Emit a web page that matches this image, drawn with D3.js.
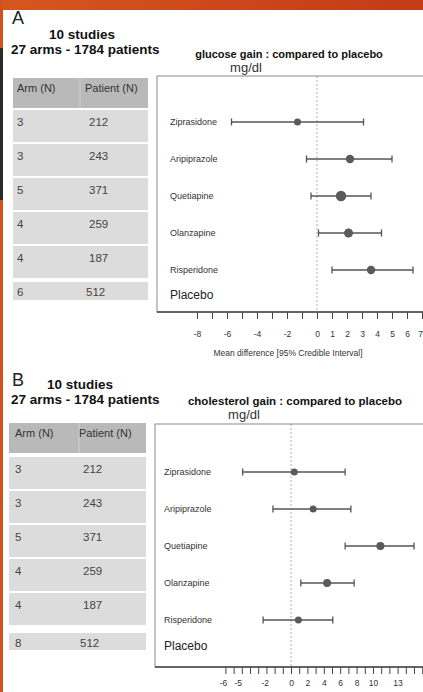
<!DOCTYPE html>
<html>
<head>
<meta charset="utf-8">
<script src="https://cdn.jsdelivr.net/npm/d3@7"></script>
<style>
body { margin: 0; background: #fff; }
text { font-family: "Liberation Sans", Arial, sans-serif; }
</style>
</head>
<body>
<script>
var drugs = ["Ziprasidone", "Aripiprazole", "Quetiapine", "Olanzapine", "Risperidone"];

var armsA = ["3", "3", "5", "4", "4", "6"];
var patientsA = ["212", "243", "371", "259", "187", "512"];
var armsB = ["3", "3", "5", "4", "4", "8"];
var patientsB = ["212", "243", "371", "259", "187", "512"];

var glucoseMean = [-1.3, 2.2, 1.6, 2.1, 3.6];
var glucoseLow = [-5.7, -0.7, -0.4, 0.1, 1.0];
var glucoseHigh = [3.1, 5.0, 3.6, 4.3, 6.4];

var cholMean = [0.4, 2.7, 10.9, 4.4, 0.9];
var cholLow = [-5.9, -2.2, 6.6, 1.2, -3.4];
var cholHigh = [6.6, 7.3, 15.0, 7.7, 5.1];

var glucoseTickVals = [-8, -6, -4, -2, 0, 1, 2, 3, 4, 5, 6, 7];
var glucoseTickText = ["-8", "-6", "-4", "-2", "0", "1", "2", "3", "4", "5", "6", "7"];
var cholTickVals = [-8.3, -6.5, -3.2, 0, 2, 4, 6, 8, 10, 13];
var cholTickText = ["-6", "-5", "-2", "0", "2", "4", "6", "8", "10", "13"];

var width = 423, height = 692;

var svg = d3.select("body").append("svg")
	.attr("width", width)
	.attr("height", height);

// slide background: orange band on top, stripe on the left
var grad = svg.append("defs").append("linearGradient").attr("id", "band");
grad.append("stop").attr("offset", "0%").attr("stop-color", "#d6561f");
grad.append("stop").attr("offset", "100%").attr("stop-color", "#c33b17");
svg.append("rect").attr("x", 0).attr("y", 0).attr("width", width).attr("height", 10).attr("fill", "url(#band)");
svg.append("rect").attr("x", 0).attr("y", 0).attr("width", 3).attr("height", height).attr("fill", "#d4501d");
svg.append("rect").attr("x", 0).attr("y", 48).attr("width", 3).attr("height", 152).attr("fill", "#2b2b2b");

function drawPanel(p) {
	var g = svg.append("g");

	g.append("text").attr("x", 12).attr("y", p.letterY)
		.attr("font-size", 18).attr("fill", "#222").text(p.letter);
	g.append("text").attr("x", p.studiesX).attr("y", p.studiesY)
		.attr("text-anchor", "middle").attr("font-size", 13.5).attr("font-weight", "bold")
		.attr("fill", "#111").text("10 studies");
	g.append("text").attr("x", 11).attr("y", p.studiesY + 14.5)
		.attr("font-size", 13.5).attr("font-weight", "bold")
		.attr("fill", "#111").text("27 arms - 1784 patients");
	g.append("text").attr("x", p.titleX).attr("y", p.titleY)
		.attr("text-anchor", "middle").attr("font-size", p.titleSize).attr("font-weight", "bold")
		.attr("fill", "#111").text(p.title);
	g.append("text").attr("x", p.unitX).attr("y", p.titleY + 14)
		.attr("text-anchor", "middle").attr("font-size", 13)
		.attr("fill", "#333").text("mg/dl");

	// table
	var t = p.table;
	g.append("rect").attr("x", t.x).attr("y", t.top).attr("width", t.w).attr("height", t.headH)
		.attr("fill", "#b9b9b9");
	g.append("line").attr("x1", t.div).attr("x2", t.div).attr("y1", t.top).attr("y2", t.top + t.headH)
		.attr("stroke", "#d2d2d2");
	g.append("text").attr("x", t.c1).attr("y", t.top + 14).attr("font-size", 11)
		.attr("fill", "#333").text("Arm (N)");
	g.append("text").attr("x", t.c2 - 4).attr("y", t.top + 14).attr("font-size", 11)
		.attr("fill", "#333").text("Patient (N)");

	var rowTop = function (i) { return i < 5 ? t.rowsTop + i * 34 : t.lastTop; };
	var rowH = function (i) { return i < 5 ? 32 : t.lastH; };

	var rows = g.selectAll("g.row")
		.data(p.arms.map(function (a, i) { return { arm: a, pat: p.patients[i], i: i }; }))
		.enter().append("g").attr("class", "row");
	rows.append("rect")
		.attr("x", t.x).attr("y", function (d) { return rowTop(d.i); })
		.attr("width", t.w).attr("height", function (d) { return rowH(d.i); })
		.attr("fill", "#dcdcdc");
	rows.append("text")
		.attr("x", t.c1).attr("y", function (d) { return d.i < 5 ? rowTop(d.i) + 16 : rowTop(d.i) + 14; })
		.attr("font-size", 11.5).attr("fill", "#444").text(function (d) { return d.arm; });
	rows.append("text")
		.attr("x", function (d) { return d.i < 5 ? t.c2 : t.c2 - 3; })
		.attr("y", function (d) { return d.i < 5 ? rowTop(d.i) + 16 : rowTop(d.i) + 14; })
		.attr("font-size", 11.5).attr("fill", "#444").text(function (d) { return d.pat; });

	// forest box
	var b = p.box;
	g.append("rect").attr("x", b.x).attr("y", b.top).attr("width", width - b.x + 5).attr("height", b.bottom - b.top)
		.attr("fill", "#fff").attr("stroke", "#8a8a8a").attr("stroke-width", 1);

	var x = d3.scaleLinear().domain(p.xDomain).range(p.xRange);
	var y = d3.scalePoint().domain(drugs).range(p.yRange);

	g.append("line").attr("x1", x(0)).attr("x2", x(0)).attr("y1", b.top).attr("y2", b.bottom)
		.attr("stroke", "#999").attr("stroke-width", 0.8).attr("stroke-dasharray", "2,2");

	var rowsF = drugs.map(function (d, i) {
		return { name: d, mean: p.mean[i], lo: p.low[i], hi: p.high[i], r: p.radius[i] };
	});

	g.selectAll("text.drug").data(rowsF).enter().append("text")
		.attr("class", "drug")
		.attr("x", p.labelX).attr("y", function (d) { return y(d.name) + 3; })
		.attr("font-size", 9).attr("fill", "#333").text(function (d) { return d.name; });
	g.append("text").attr("x", p.labelX).attr("y", p.yRange[1] + p.placeboGap + 4)
		.attr("font-size", 12).attr("fill", "#222").text("Placebo");

	var bars = g.selectAll("g.ci").data(rowsF).enter().append("g").attr("class", "ci");
	bars.append("line")
		.attr("x1", function (d) { return x(d.lo); }).attr("x2", function (d) { return x(d.hi); })
		.attr("y1", function (d) { return y(d.name); }).attr("y2", function (d) { return y(d.name); })
		.attr("stroke", "#555").attr("stroke-width", 1.3);
	bars.selectAll("line.cap")
		.data(function (d) { return [{ v: d.lo, n: d.name }, { v: d.hi, n: d.name }]; })
		.enter().append("line").attr("class", "cap")
		.attr("x1", function (d) { return x(d.v); }).attr("x2", function (d) { return x(d.v); })
		.attr("y1", function (d) { return y(d.n) - 3.5; }).attr("y2", function (d) { return y(d.n) + 3.5; })
		.attr("stroke", "#555").attr("stroke-width", 1.3);
	bars.append("circle")
		.attr("cx", function (d) { return x(d.mean); }).attr("cy", function (d) { return y(d.name); })
		.attr("r", function (d) { return d.r; })
		.attr("fill", "#5a5a5a");

	// axis
	var minor = d3.range(p.xDomain[0], p.xDomain[1] + 1).filter(function (v) { return x(v) <= width; });
	var axisTicks = d3.axisBottom(x).tickValues(minor).tickSize(7).tickFormat("");
	var ag = g.append("g").attr("transform", "translate(0," + b.bottom + ")").call(axisTicks);
	ag.select(".domain").remove();
	ag.selectAll(".tick line").attr("stroke", "#444").attr("stroke-width", 1);
	g.append("line").attr("x1", b.x).attr("x2", width).attr("y1", b.bottom).attr("y2", b.bottom)
		.attr("stroke", "#444").attr("stroke-width", 1.5);

	var axisLabels = d3.axisBottom(x).tickValues(p.tickVals).tickSize(0)
		.tickFormat(function (d, i) { return p.tickText[i]; });
	var lg = g.append("g").attr("transform", "translate(0," + (b.bottom + p.labelOffset) + ")").call(axisLabels);
	lg.select(".domain").remove();
	lg.selectAll(".tick text").attr("font-size", 8.5).attr("fill", "#333")
		.attr("font-family", "Liberation Sans, Arial, sans-serif")
		.attr("dx", function (d) { return x(d) > width - 4 ? -2 : 0; });

	if (p.axisTitle) {
		g.append("text").attr("x", 288).attr("y", b.bottom + 44)
			.attr("text-anchor", "middle").attr("font-size", 8.5).attr("fill", "#333")
			.text(p.axisTitle);
	}
}

drawPanel({
	letter: "A", letterY: 24,
	studiesX: 82, studiesY: 39,
	title: "glucose gain : compared to placebo", titleX: 289, titleY: 58, titleSize: 11,
	unitX: 246,
	table: { x: 13, w: 135, div: 80, top: 78, headH: 30, rowsTop: 110, lastTop: 282, lastH: 18, c1: 17, c2: 89 },
	arms: armsA, patients: patientsA,
	box: { x: 157, top: 76, bottom: 312 },
	xDomain: [-8, 7], xRange: [197, 422],
	yRange: [122, 270], placeboGap: 25, labelX: 170,
	mean: glucoseMean, low: glucoseLow, high: glucoseHigh,
	radius: [3.5, 4.2, 5.2, 4.5, 4.2],
	tickVals: glucoseTickVals, tickText: glucoseTickText, labelOffset: 16,
	axisTitle: "Mean difference [95% Credible Interval]"
});

drawPanel({
	letter: "B", letterY: 386,
	studiesX: 80, studiesY: 389,
	title: "cholesterol gain : compared to placebo", titleX: 295, titleY: 405, titleSize: 11.5,
	unitX: 244,
	table: { x: 9, w: 137, div: 79, top: 423, headH: 30, rowsTop: 457, lastTop: 633, lastH: 17, c1: 15, c2: 83 },
	arms: armsB, patients: patientsB,
	box: { x: 155, top: 424, bottom: 667 },
	xDomain: [-8, 16], xRange: [225.4, 422.2],
	yRange: [472, 620], placeboGap: 26, labelX: 164,
	mean: cholMean, low: cholLow, high: cholHigh,
	radius: [3.5, 3.5, 4, 4, 3.5],
	tickVals: cholTickVals, tickText: cholTickText, labelOffset: 10,
	axisTitle: null
});
</script>
</body>
</html>
